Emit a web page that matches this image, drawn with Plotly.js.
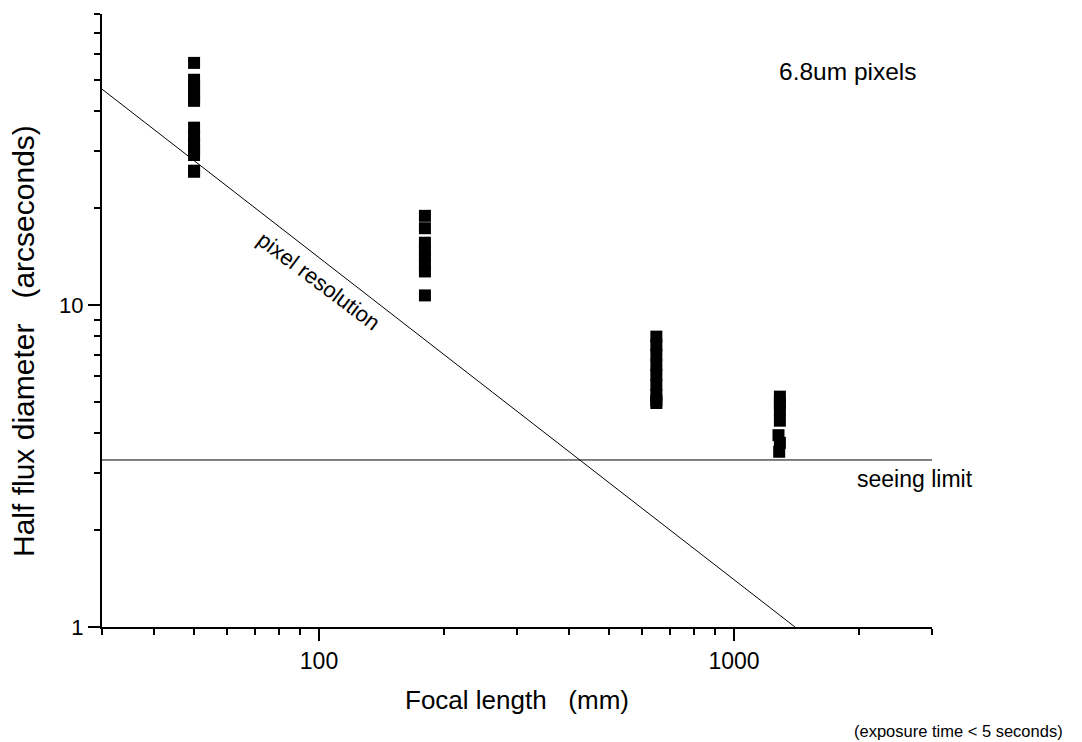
<!DOCTYPE html>
<html>
<head>
<meta charset="utf-8">
<script src="https://cdn.plot.ly/plotly-3.0.1.min.js"></script>
<style>html,body{margin:0;padding:0;background:#fff;}#chart{width:1082px;height:742px;}</style>
</head>
<body>
<div id="chart"></div>
<script>
// Measured half flux diameters (arcseconds) per focal length (mm)
const focal50X = [50, 50, 50, 50, 50, 50, 50, 50, 50, 50, 50, 50, 50];
const focal50Y = [56.4, 50.0, 47.9, 45.9, 43.9, 43.0, 35.5, 33.5, 31.8, 30.3, 29.2, 26.1, 25.9];
const focal180X = [180, 180, 180, 180, 180, 180, 180, 180];
const focal180Y = [18.9, 17.3, 15.6, 14.8, 14.1, 13.3, 12.7, 10.7];
const focal650X = [650, 650, 650, 650, 650, 650, 650, 650, 650];
const focal650Y = [7.97, 7.5, 7.0, 6.5, 6.06, 5.64, 5.25, 5.05, 4.96];
const focal1300X = [1290, 1290, 1290, 1290, 1280, 1290, 1285];
const focal1300Y = [5.19, 4.95, 4.72, 4.37, 3.94, 3.73, 3.50];

// Reference lines
const pixelResX = [30, 1402.6];
const pixelResY = [46.75, 1.0];
const seeingX = [30, 3000];
const seeingY = [3.3, 3.3];

// Axis ticks
const xMajorTicks = [100, 1000];
const xMajorLabels = ['100', '1000'];
const xMinorTicks = [30, 40, 50, 60, 70, 80, 90, 200, 300, 400, 500, 600, 700, 800, 900, 2000, 3000];
const yMajorTicks = [1, 10];
const yMajorLabels = ['1', '10'];
const yMinorTicks = [2, 3, 4, 5, 6, 7, 8, 9, 20, 30, 40, 50, 60, 70, 80];

const font = 'Liberation Sans, Arial, sans-serif';
const marker = {symbol: 'square', size: 12, color: '#000', line: {width: 0}};

const traces = [
  {x: pixelResX, y: pixelResY, mode: 'lines', line: {color: '#000', width: 1}, hoverinfo: 'skip'},
  {x: seeingX, y: seeingY, mode: 'lines', line: {color: '#000', width: 1}, hoverinfo: 'skip'},
  {x: focal50X, y: focal50Y, mode: 'markers', marker: marker},
  {x: focal180X, y: focal180Y, mode: 'markers', marker: marker},
  {x: focal650X, y: focal650Y, mode: 'markers', marker: marker},
  {x: focal1300X, y: focal1300Y, mode: 'markers', marker: marker}
];

const plotL = 102, plotR = 150, plotT = 14, plotB = 115;
const plotW = 1082 - plotL - plotR, plotH = 742 - plotT - plotB;

const layout = {
  width: 1082, height: 742,
  paper_bgcolor: '#fff', plot_bgcolor: '#fff',
  showlegend: false,
  margin: {l: plotL, r: plotR, t: plotT, b: plotB},
  font: {family: font, color: '#000'},
  xaxis: {
    type: 'log', range: [Math.log10(30), Math.log10(3000)],
    showgrid: false, zeroline: false,
    showline: true, linecolor: '#000', linewidth: 2,
    ticks: 'outside', ticklen: 12, tickwidth: 2, tickcolor: '#000',
    tickmode: 'array', tickvals: xMajorTicks, ticktext: xMajorLabels,
    tickfont: {size: 23, family: font},
    minor: {tickmode: 'array', tickvals: xMinorTicks, ticks: 'outside', ticklen: 6, tickwidth: 2, tickcolor: '#000', showgrid: false},
    title: {text: 'Focal length\u00a0\u00a0\u00a0(mm)', font: {size: 26, family: font}, standoff: 18}
  },
  yaxis: {
    type: 'log', range: [0, Math.log10(80)],
    showgrid: false, zeroline: false,
    showline: true, linecolor: '#000', linewidth: 2,
    ticks: 'outside', ticklen: 12, tickwidth: 2, tickcolor: '#000',
    tickmode: 'array', tickvals: yMajorTicks, ticktext: yMajorLabels,
    tickfont: {size: 22, family: font},
    minor: {tickmode: 'array', tickvals: yMinorTicks, ticks: 'outside', ticklen: 6, tickwidth: 2, tickcolor: '#000', showgrid: false}
  },
  annotations: [
    {x: (23 - plotL) / plotW, y: 1 - (341 - plotT) / plotH, xref: 'paper', yref: 'paper', xanchor: 'center', yanchor: 'middle', textangle: -90, text: 'Half flux diameter\u00a0\u00a0\u00a0(arcseconds)', showarrow: false, font: {size: 30, family: font}},
    {x: Math.log10(1884), y: Math.log10(52.9), xref: 'x', yref: 'y', text: '6.8um pixels', showarrow: false, font: {size: 24.5, family: font}},
    {x: Math.log10(2735), y: Math.log10(3.3), xref: 'x', yref: 'y', yshift: -19, text: 'seeing limit', showarrow: false, font: {size: 23, family: font}},
    {x: Math.log10(100), y: Math.log10(11.8), xref: 'x', yref: 'y', text: 'pixel resolution', showarrow: false, textangle: 37, font: {size: 22, family: font}},
    {x: (1065 - plotL) / plotW, y: -(731 - (742 - plotB)) / plotH, xref: 'paper', yref: 'paper', xanchor: 'right', yanchor: 'middle', text: '(exposure time < 5 seconds)', showarrow: false, font: {size: 16.5, family: font}}
  ]
};

Plotly.newPlot('chart', traces, layout, {displayModeBar: false, staticPlot: true});
</script>
</body>
</html>
